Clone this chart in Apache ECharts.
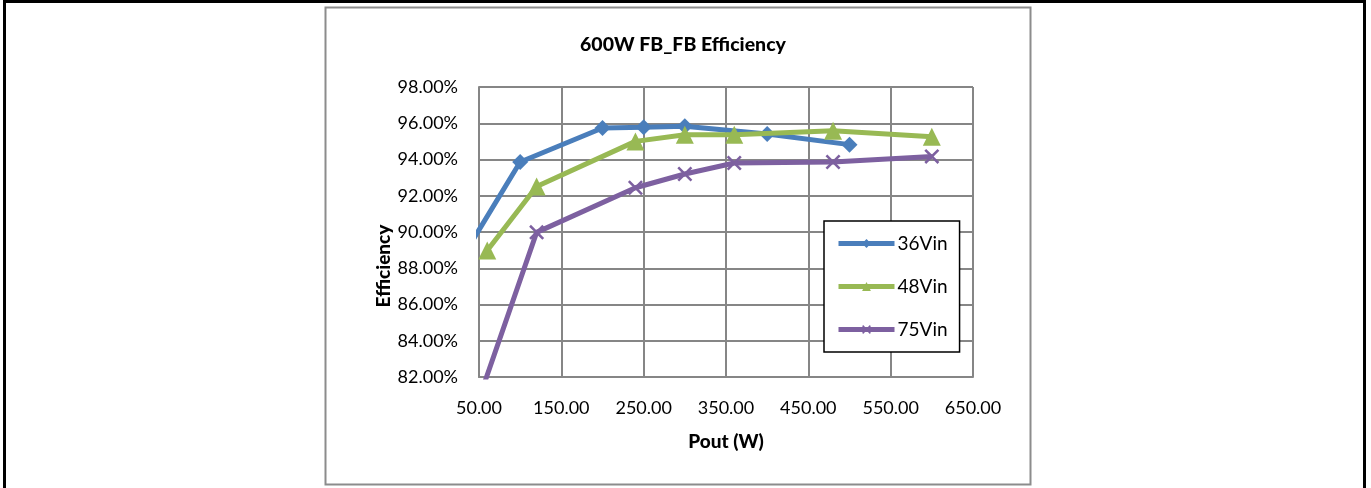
<!DOCTYPE html>
<html>
<head>
<meta charset="utf-8">
<script src="https://cdn.jsdelivr.net/npm/echarts@6/dist/echarts.min.js"></script>
<style>
html,body{margin:0;padding:0;background:#fff;}
#chart{width:1371px;height:488px;}
</style>
</head>
<body>
<div id="chart"></div>
<script>
// Data
const pout36 = [30, 100, 200, 250, 300, 400, 500];
const eff36  = [88.62, 93.86, 95.74, 95.78, 95.83, 95.41, 94.82];
const pout48 = [60, 120, 240, 300, 360, 480, 600];
const eff48  = [88.98, 92.51, 95.00, 95.37, 95.37, 95.59, 95.26];
const pout75 = [50, 120, 240, 300, 360, 480, 600];
const eff75  = [80.8, 89.98, 92.44, 93.20, 93.81, 93.86, 94.17];
const seriesNames = ['36Vin', '48Vin', '75Vin'];
const chartTitle = '600W FB_FB Efficiency';
const xName = 'Pout (W)';
const yName = 'Efficiency';

const FONT = 'Lato';
const zip = (xs, ys) => xs.map((x, i) => [x, ys[i]]);
const crossPath = 'path://M0,1.2 L1.2,0 L5,3.8 L8.8,0 L10,1.2 L6.2,5 L10,8.8 L8.8,10 L5,6.2 L1.2,10 L0,8.8 L3.8,5 Z';

const chart = echarts.init(document.getElementById('chart'), null, {renderer: 'canvas'});
chart.setOption({
  backgroundColor: '#fff',
  animation: false,
  graphic: [
    {type: 'rect', shape: {x: 4.5, y: 1.5, width: 1360, height: 500}, style: {fill: 'none', stroke: '#000', lineWidth: 3}},
    {type: 'rect', shape: {x: 325.5, y: 7.5, width: 705, height: 477}, style: {fill: 'none', stroke: '#8c8c8c', lineWidth: 2}}
  ],
  title: {
    text: chartTitle,
    left: 678, top: 30, textAlign: 'center',
    textStyle: {fontFamily: FONT, fontWeight: 900, fontSize: 19.5, color: '#000'}
  },
  grid: {left: 479, right: 398, top: 87, bottom: 111, containLabel: false},
  xAxis: {
    type: 'value', min: 50, max: 650, interval: 100,
    name: xName, nameLocation: 'middle', nameGap: 55,
    nameTextStyle: {fontFamily: FONT, fontWeight: 900, fontSize: 19, color: '#000'},
    axisLine: {show: true, lineStyle: {color: '#868686', width: 2}},
    axisTick: {show: false},
    axisLabel: {margin: 22, fontFamily: FONT, fontSize: 18, color: '#000', formatter: v => v.toFixed(2)},
    splitLine: {show: true, lineStyle: {color: '#868686', width: 2}}
  },
  yAxis: {
    type: 'value', min: 82, max: 98, interval: 2,
    name: yName, nameLocation: 'middle', nameGap: 86, nameRotate: 90,
    nameTextStyle: {fontFamily: FONT, fontWeight: 900, fontSize: 19, color: '#000', padding: [0, 68, 0, 0]},
    axisLine: {show: true, lineStyle: {color: '#868686', width: 2}},
    axisTick: {show: false},
    axisLabel: {margin: 21, fontFamily: FONT, fontSize: 18, color: '#000', formatter: v => v.toFixed(2) + '%'},
    splitLine: {show: true, lineStyle: {color: '#868686', width: 2}}
  },
  legend: {
    orient: 'vertical', left: 824, top: 221,
    backgroundColor: '#fff', borderColor: '#000', borderWidth: 1.5,
    padding: [13, 12, 13, 12], itemGap: 24, itemWidth: 56, itemHeight: 11,
    lineStyle: {width: 5},
    textStyle: {fontFamily: FONT, fontSize: 19, color: '#000', padding: [0, 0, 0, -2]},
    data: seriesNames
  },
  series: [
    {name: seriesNames[0], type: 'line', data: zip(pout36, eff36), symbol: 'diamond', symbolSize: 16,
      lineStyle: {color: '#4A7EBB', width: 5}, itemStyle: {color: '#4A7EBB'}, clip: true, z: 3},
    {name: seriesNames[1], type: 'line', data: zip(pout48, eff48), symbol: 'triangle', symbolSize: 18,
      lineStyle: {color: '#98B954', width: 5}, itemStyle: {color: '#98B954'}, clip: true, z: 4},
    {name: seriesNames[2], type: 'line', data: zip(pout75, eff75), symbol: crossPath, symbolSize: 15,
      lineStyle: {color: '#7D60A0', width: 5}, itemStyle: {color: '#7D60A0'}, clip: true, z: 2}
  ]
});
</script>
</body>
</html>
